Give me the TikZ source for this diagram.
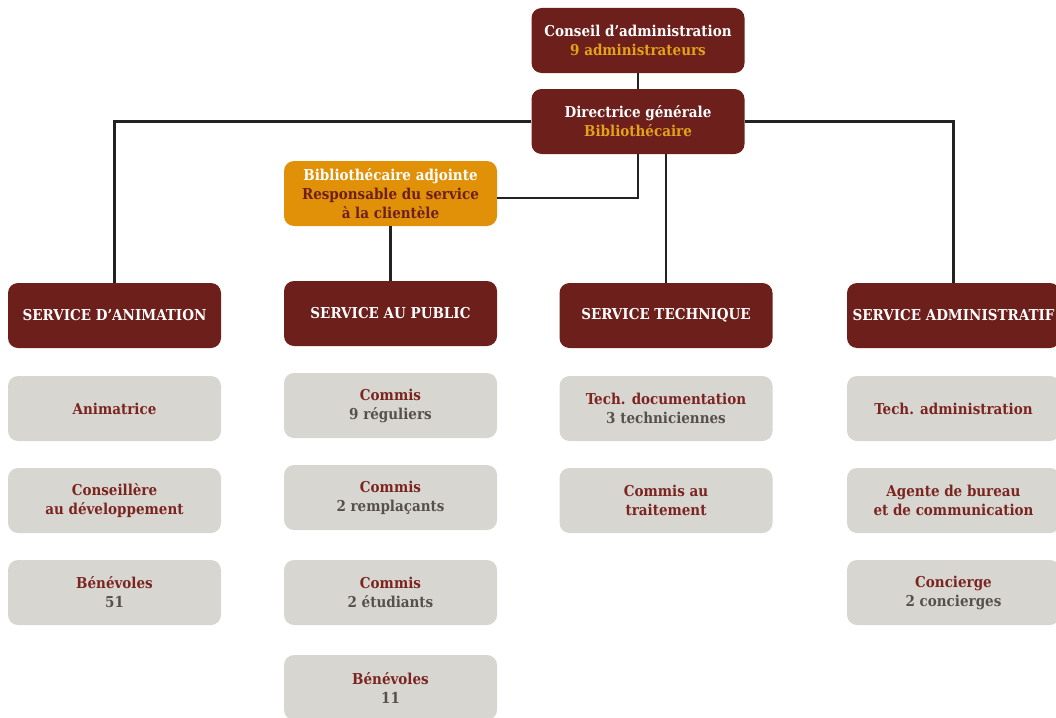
\documentclass[tikz,border=0pt]{standalone}
\usepackage{fontspec}
\setmainfont{DejaVu Serif Condensed}
\usepackage{tikz}
\usetikzlibrary{positioning}

\definecolor{bordeaux}{HTML}{6D1F1B}
\definecolor{or}{HTML}{E09108}
\definecolor{orclair}{HTML}{E3A21A}
\definecolor{gris}{HTML}{D8D6D1}
\definecolor{grisfonce}{HTML}{55504D}
\definecolor{rouge}{HTML}{7A2520}
\definecolor{trait}{HTML}{222222}

\begin{document}
\begin{tikzpicture}[x=1pt,y=-1pt,
    boite/.style={rounded corners=10pt, minimum width=213pt, minimum height=65pt,
        align=center, font=\bfseries\fontsize{15}{19}\selectfont, inner sep=2pt},
    chef/.style={boite, fill=bordeaux, text=white},
    adjointe/.style={boite, fill=or, text=white},
    poste/.style={boite, fill=gris, text=rouge},
    lien/.style={draw=trait, line width=2.4pt}]

\useasboundingbox (0,0) rectangle (1056,717);

\node [chef] (ca) at (638,40.5) {Conseil d’administration\\\textcolor{orclair}{9 administrateurs}};
\node [chef] (dg) at (638,121.5) {Directrice générale\\\textcolor{orclair}{Bibliothécaire}};
\node [adjointe] (adj) at (390.5,193.5) {Bibliothécaire adjointe\\\textcolor{bordeaux}{Responsable du service}\\\textcolor{bordeaux}{à la clientèle}};

\node [chef] (anim) at (114.5,315.5) {SERVICE D’ANIMATION};
\node [chef] (pub) at (390.5,313.5) {SERVICE AU PUBLIC};
\node [chef] (tech) at (666,315.5) {SERVICE TECHNIQUE};
\node [chef] (adm) at (953.5,315.5) {SERVICE ADMINISTRATIF};

\node [poste] (anim1) at (114.5,408.5) {Animatrice};
\node [poste] (anim2) at (114.5,500.5) {Conseillère\\au développement};
\node [poste] (anim3) at (114.5,592.5) {Bénévoles\\\textcolor{grisfonce}{51}};

\node [poste] (pub1) at (390.5,405.5) {Commis\\\textcolor{grisfonce}{9 réguliers}};
\node [poste] (pub2) at (390.5,497.5) {Commis\\\textcolor{grisfonce}{2 remplaçants}};
\node [poste] (pub3) at (390.5,592.5) {Commis\\\textcolor{grisfonce}{2 étudiants}};
\node [poste] (pub4) at (390.5,687.5) {Bénévoles\\\textcolor{grisfonce}{11}};

\node [poste] (tech1) at (666,408.5) {Tech. documentation\\\textcolor{grisfonce}{3 techniciennes}};
\node [poste] (tech2) at (666,500.5) {Commis au\\traitement};

\node [poste] (adm1) at (953.5,408.5) {Tech. administration};
\node [poste] (adm2) at (953.5,500.5) {Agente de bureau\\et de communication};
\node [poste] (adm3) at (953.5,592.5) {Concierge\\\textcolor{grisfonce}{2 concierges}};

\draw [lien] (ca) -- (dg);
\draw [lien] (dg.west) -| (anim.north);
\draw [lien] (dg.east) -| (adm.north);
\draw [lien] (dg.south) |- ([yshift=-4.5pt]adj.east);
\draw [lien] (dg.south -| tech.north) -- (tech.north);
\draw [lien] (adj.south) -- (pub.north);

\end{tikzpicture}
\end{document}
